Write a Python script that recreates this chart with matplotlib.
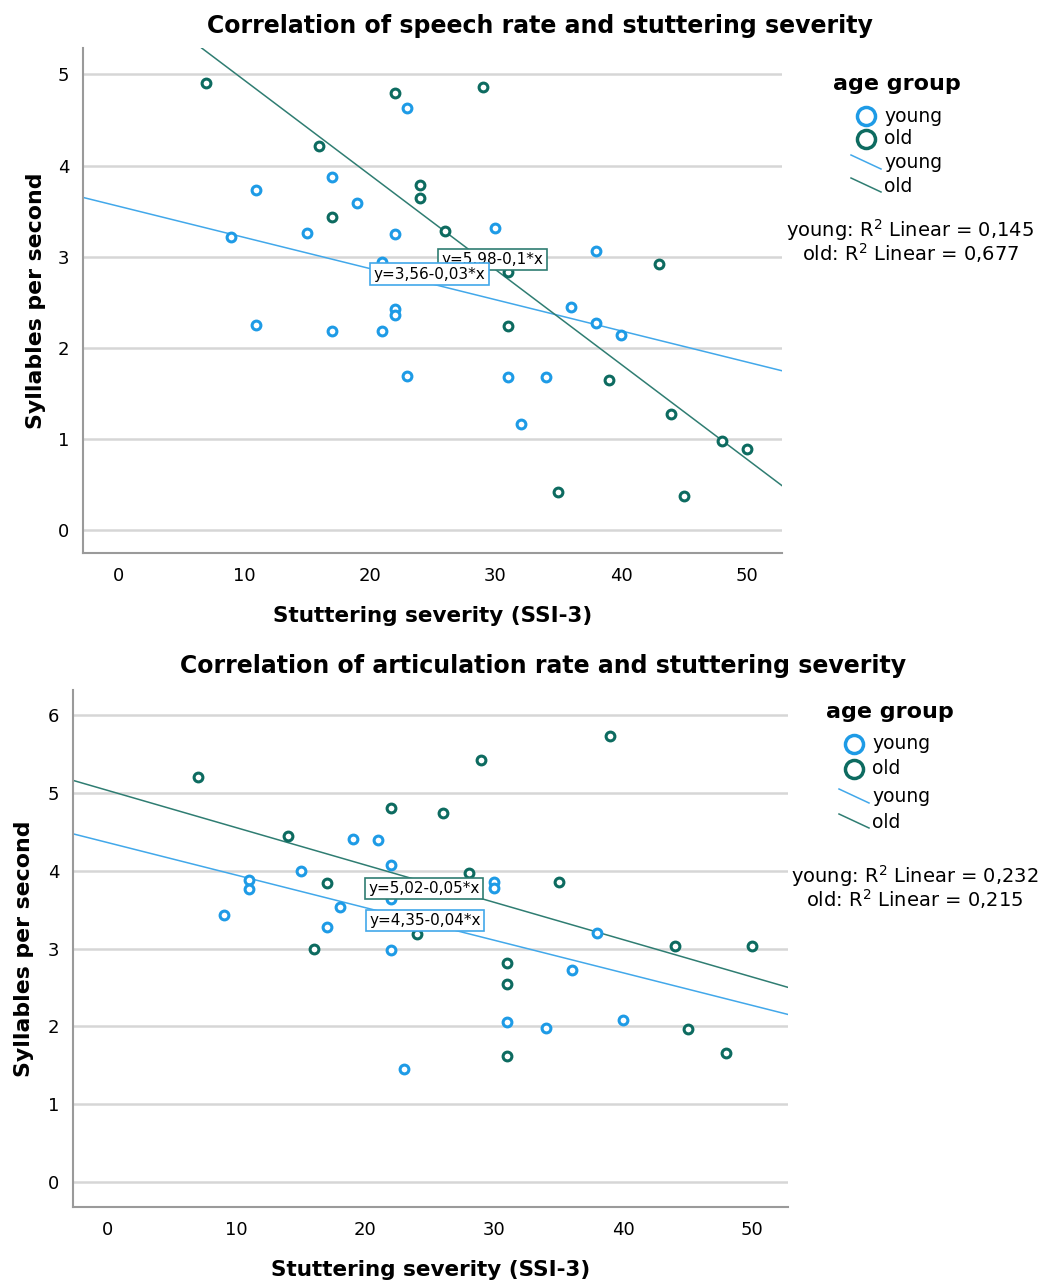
import numpy as np
import matplotlib
matplotlib.use("Agg")
import matplotlib.pyplot as plt
from matplotlib.lines import Line2D

# ---- data ----
# top panel: speech rate
sr_young_x = [23, 17, 11, 19, 9, 15, 22, 21, 30, 38, 22, 22, 36, 38, 40, 11, 17, 21, 23, 31, 34, 32]
sr_young_y = [4.63, 3.87, 3.73, 3.59, 3.22, 3.26, 3.25, 2.94, 3.32, 3.06, 2.43, 2.36, 2.45, 2.27,
              2.14, 2.25, 2.19, 2.19, 1.69, 1.68, 1.68, 1.17]
sr_old_x = [7, 29, 22, 16, 24, 24, 17, 26, 31, 43, 31, 39, 44, 48, 50, 35, 45]
sr_old_y = [4.91, 4.86, 4.80, 4.21, 3.79, 3.64, 3.44, 3.28, 2.83, 2.92, 2.24, 1.65, 1.28, 0.98,
            0.89, 0.42, 0.38]
sr_fit = {"young": (3.555, -0.0342), "old": (5.98, -0.104)}
sr_labels = {"young": "y=3,56-0,03*x", "old": "y=5,98-0,1*x"}
sr_r2 = {"young": "0,145", "old": "0,677"}

# bottom panel: articulation rate
ar_young_x = [9, 11, 11, 15, 17, 18, 19, 21, 22, 22, 22, 23, 30, 30, 31, 34, 36, 38, 40]
ar_young_y = [3.43, 3.88, 3.76, 4.00, 3.27, 3.53, 4.41, 4.39, 4.07, 3.64, 2.98, 1.45, 3.85, 3.78,
              2.05, 1.98, 2.72, 3.20, 2.08]
ar_old_x = [7, 14, 16, 17, 22, 24, 26, 28, 29, 31, 31, 31, 35, 39, 44, 45, 48, 50]
ar_old_y = [5.20, 4.44, 3.00, 3.84, 4.80, 3.19, 4.74, 3.97, 5.42, 2.82, 2.54, 1.62, 3.86, 5.73,
            3.03, 1.96, 1.66, 3.03]
ar_fit = {"young": (4.36, -0.0418), "old": (5.03, -0.0479)}
ar_labels = {"young": "y=4,35-0,04*x", "old": "y=5,02-0,05*x"}
ar_r2 = {"young": "0,232", "old": "0,215"}

xticks = [0, 10, 20, 30, 40, 50]

c_young = "#1e9be6"
c_old = "#0d6b60"
c_young_line = "#42a8ea"
c_old_line = "#2f7d72"

fig = plt.figure(figsize=(10.45, 12.84), dpi=100)
W, H = 1045, 1284


def px_axes(l, t, r, b):
    return fig.add_axes([l / W, 1 - b / H, (r - l) / W, (b - t) / H])


def panel(ax, yx, yy, ox, oy, fit, labels, lab_pos, xlim, ylim, yticks, title, title_xy, ylabpad):
    ax.set_xlim(*xlim)
    ax.set_ylim(*ylim)
    for v in yticks:
        ax.axhline(v, color="#d6d6d6", lw=1.8, zorder=0)
    ax.scatter(yx, yy, s=40, facecolors="white", edgecolors=c_young, linewidths=2.2, zorder=3)
    ax.scatter(ox, oy, s=40, facecolors="white", edgecolors=c_old, linewidths=2.2, zorder=3)
    ax.axline((0, fit["young"][0]), slope=fit["young"][1], color=c_young_line, lw=1.1, zorder=2)
    ax.axline((0, fit["old"][0]), slope=fit["old"][1], color=c_old_line, lw=1.1, zorder=2)
    for grp, col in (("old", c_old_line), ("young", c_young_line)):
        x0, y0 = lab_pos[grp]
        ax.text(x0, y0, labels[grp], fontsize=11, va="center", ha="left", zorder=5,
                bbox=dict(boxstyle="square,pad=0.22", fc="white", ec=col, lw=1.2))
    ax.set_xticks(xticks)
    ax.set_yticks(yticks)
    ax.tick_params(length=0, labelsize=13, pad=10)
    for s in ("top", "right"):
        ax.spines[s].set_visible(False)
    for s in ("left", "bottom"):
        ax.spines[s].set_color("#9a9a9a")
        ax.spines[s].set_linewidth(1.5)
    ax.set_xlabel("Stuttering severity (SSI-3)", fontsize=15.5, fontweight="bold", labelpad=15)
    ax.set_ylabel("Syllables per second", fontsize=15.8, fontweight="bold", labelpad=ylabpad)
    fig.text(title_xy[0] / W, 1 - title_xy[1] / H, title,
             fontsize=17, fontweight="bold", ha="center", va="center")


def legend(x_title, y_title, x_mark, x_text, ys, r2, y_r2, x_r2):
    fig.text(x_title / W, 1 - y_title / H, "age group", fontsize=16, fontweight="bold",
             ha="center", va="center")
    names = ["young", "old", "young", "old"]
    for i, (y, n) in enumerate(zip(ys, names)):
        if i < 2:
            col = c_young if i == 0 else c_old
            fig.add_artist(Line2D([x_mark / W], [1 - y / H], marker="o", ms=13, mfc="white",
                                  mec=col, mew=2.5, ls="none"))
        else:
            col = c_young_line if i == 2 else c_old_line
            fig.add_artist(Line2D([(x_mark - 15) / W, (x_mark + 15) / W],
                                  [1 - (y - 8) / H, 1 - (y + 6) / H], color=col, lw=1.1))
        fig.text(x_text / W, 1 - y / H, n, fontsize=13.5, ha="left", va="center")
    fig.text(x_r2 / W, 1 - y_r2 / H, "young: R$^2$ Linear = " + r2["young"], fontsize=14,
             ha="center", va="center")
    fig.text(x_r2 / W, 1 - (y_r2 + 23) / H, "old: R$^2$ Linear = " + r2["old"], fontsize=14,
             ha="center", va="center")


ax1 = px_axes(83, 48, 782, 553)
panel(ax1, sr_young_x, sr_young_y, sr_old_x, sr_old_y, sr_fit, sr_labels,
      {"old": (25.7, 2.97), "young": (20.3, 2.81)},
      (-2.8, 52.8), (-0.25, 5.29), [0, 1, 2, 3, 4, 5],
      "Correlation of speech rate and stuttering severity", (540, 26), 8)
legend(897, 84, 866, 884, [116, 139, 163, 186], sr_r2, 230, 910)

ax2 = px_axes(73, 690, 788, 1207)
panel(ax2, ar_young_x, ar_young_y, ar_old_x, ar_old_y, ar_fit, ar_labels,
      {"old": (20.2, 3.77), "young": (20.3, 3.36)},
      (-2.7, 52.8), (-0.32, 6.32), [0, 1, 2, 3, 4, 5, 6],
      "Correlation of articulation rate and stuttering severity", (543, 666), 10)
legend(890, 712, 854, 872, [744, 769, 797, 822], ar_r2, 876, 915)

fig.savefig("out.png", dpi=100, facecolor="white")
